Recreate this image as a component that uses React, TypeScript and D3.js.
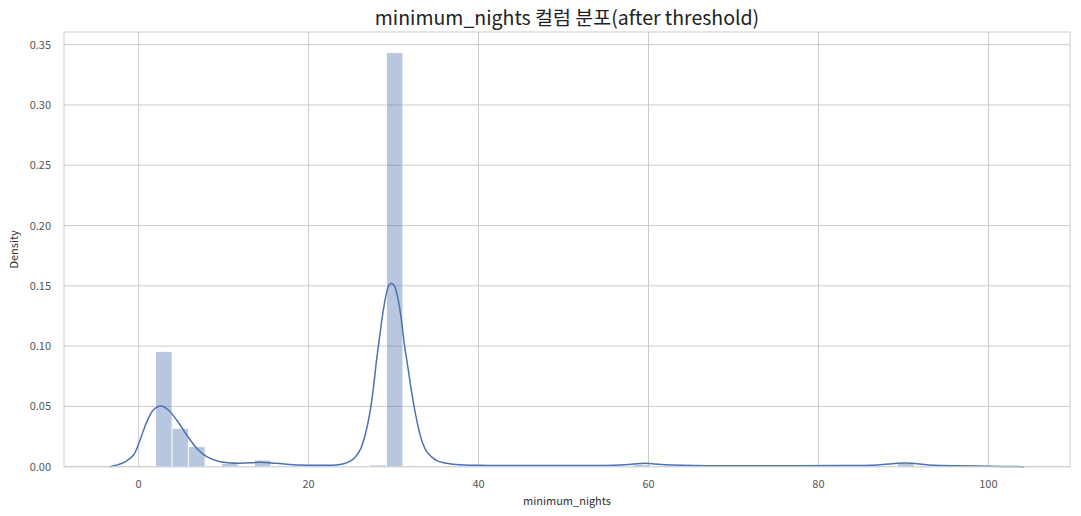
import React from "react";
import * as d3 from "d3";

// Histogram: 50 equal bins spanning the data range
const binStart = 2;
const binEnd = 99;
const binDensities = [
  0.0954, 0.0318, 0.0166, 0.0004, 0.0028, 0.0006, 0.0055, 0.0008, 0.0006, 0.001,
  0.0004, 0.0004, 0.0006, 0.0014, 0.3433, 0.0008, 0.0004, 0.0003, 0.0003, 0.0004,
  0.0003, 0.0003, 0.0003, 0.0003, 0.0003, 0.0003, 0.0003, 0.0004, 0.0005, 0.0018,
  0.0003, 0.0002, 0.0002, 0.0002, 0.0002, 0.0002, 0.0002, 0.0002, 0.0002, 0.0002,
  0.0002, 0.0002, 0.0002, 0.0003, 0.0004, 0.0028, 0.0003, 0.0002, 0.0002, 0.0002,
];

// KDE curve
const kdeX = [
  -3.4, -2.5, -1.6, -0.6, 0.16, 0.95, 1.73, 2.64, 3.49, 4.48, 5.66, 6.84, 8.0, 9.6,
  11.9, 14.3, 16.2, 19.0, 22.0, 23.7, 25.1, 26.05, 26.6, 27.2, 27.6, 28.0, 28.4, 28.8,
  29.2, 29.5, 29.8, 30.1, 30.5, 30.9, 31.3, 31.7, 32.1, 32.6, 33.0, 33.4, 33.9, 35.1,
  37.0, 39.8, 45, 52, 56, 58, 59.6, 61.5, 64, 67, 75, 83, 87, 90.2, 93, 96, 100, 104.2,
];
const kdeY = [
  0.0, 0.0015, 0.004, 0.0097, 0.022, 0.037, 0.047, 0.0503, 0.047, 0.0387, 0.0263,
  0.0153, 0.0083, 0.0041, 0.0028, 0.0036, 0.0028, 0.0014, 0.0012, 0.0018, 0.0055,
  0.0138, 0.0249, 0.0443, 0.0636, 0.0885, 0.11, 0.13, 0.145, 0.151, 0.152, 0.15, 0.14,
  0.123, 0.1, 0.082, 0.063, 0.043, 0.03, 0.02, 0.0125, 0.005, 0.002, 0.0012, 0.001,
  0.0009, 0.0012, 0.002, 0.0028, 0.0018, 0.0011, 0.0008, 0.0007, 0.0009, 0.0015, 0.003,
  0.0015, 0.0008, 0.0004, 0.0,
];

const xTicks = [0, 20, 40, 60, 80, 100];
const yTicks = [0, 0.05, 0.1, 0.15, 0.2, 0.25, 0.3, 0.35];

const title = "minimum_nights 컬럼 분포(after threshold)";
const xLabel = "minimum_nights";
const yLabel = "Density";

const W = 1081;
const H = 516;
const left = 64;
const right = 1070;
const top = 32;
const bottom = 466.7;
const blue = "#4c72b0";
const grid = "#cccccc";
const font = "'Noto Sans CJK KR', 'Noto Sans', sans-serif";

export default function App() {
  const x = d3.scaleLinear().domain([-8.78, 109.6]).range([left, right]);
  const y = d3.scaleLinear().domain([0, 0.3605]).range([bottom, top]);
  const binW = (binEnd - binStart) / binDensities.length;
  const line = d3
    .line<number>()
    .x((_, i) => x(kdeX[i]))
    .y((d) => Math.min(y(d), bottom))
    .curve(d3.curveCatmullRom.alpha(0.5));
  const fmt = d3.format(".2f");

  return (
    <svg
      width={W}
      height={H}
      style={{ position: "absolute", left: 0, top: 0, background: "#fff" }}
      fontFamily={font}
    >
      {/* grid */}
      {xTicks.map((t) => (
        <line key={"gx" + t} x1={x(t)} x2={x(t)} y1={top} y2={bottom} stroke={grid} strokeWidth={1} />
      ))}
      {yTicks.map((t) => (
        <line key={"gy" + t} x1={left} x2={right} y1={y(t)} y2={y(t)} stroke={grid} strokeWidth={1} />
      ))}
      {/* bars */}
      {binDensities.map((d, i) => {
        const x0 = x(binStart + i * binW);
        const x1 = x(binStart + (i + 1) * binW);
        return (
          <rect
            key={"b" + i}
            x={x0}
            y={y(d)}
            width={x1 - x0}
            height={y(0) - y(d)}
            fill={blue}
            fillOpacity={0.4}
            stroke="#ffffff"
            strokeWidth={0.8}
          />
        );
      })}
      {/* kde */}
      <path d={line(kdeY) || ""} fill="none" stroke={blue} strokeWidth={1.5} />
      {/* frame */}
      <rect x={left} y={top} width={right - left} height={bottom - top} fill="none" stroke={grid} strokeWidth={1} />
      {/* ticks */}
      {xTicks.map((t) => (
        <text key={"tx" + t} x={x(t)} y={488} fontSize={11} fill="#555" textAnchor="middle">
          {t}
        </text>
      ))}
      {yTicks.map((t) => (
        <text key={"ty" + t} x={51} y={y(t) + 4} fontSize={11} fill="#555" textAnchor="end">
          {fmt(t)}
        </text>
      ))}
      <text x={(left + right) / 2} y={505} fontSize={11} fill="#333" textAnchor="middle">
        {xLabel}
      </text>
      <text
        transform={`translate(18, ${(top + bottom) / 2}) rotate(-90)`}
        fontSize={11}
        fill="#333"
        textAnchor="middle"
      >
        {yLabel}
      </text>
      <text x={(left + right) / 2} y={25} fontSize={19.5} fill="#222" textAnchor="middle">
        {title}
      </text>
    </svg>
  );
}
